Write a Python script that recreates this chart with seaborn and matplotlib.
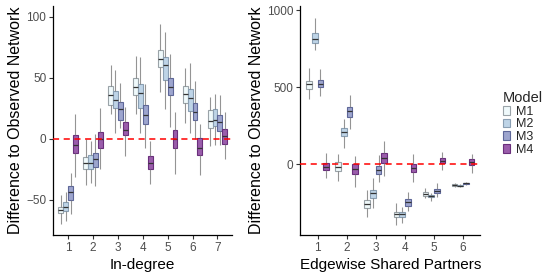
import numpy as np
import pandas as pd
import matplotlib
matplotlib.use("Agg")
import matplotlib.pyplot as plt
import matplotlib.patches as mpatches
import seaborn as sns

# Valores: (bigote inf, Q1, mediana, Q3, bigote sup)
models = ["M1", "M2", "M3", "M4"]
indeg_cats = ["1", "2", "3", "4", "5", "6", "7"]
esp_cats = ["1", "2", "3", "4", "5", "6"]

indeg_m1 = [(-70, -61, -58.5, -56, -46), (-38, -25, -20, -15, -0.5), (20, 28, 35.5, 43, 60),
            (20, 36, 42.6, 50, 68), (38, 59, 65, 73, 94), (12.6, 29, 37, 43, 58), (-6, 8.5, 14.5, 23.5, 34)]
indeg_m2 = [(-67.5, -59, -55.7, -52, -44), (-36, -24.6, -20, -13.4, -2), (5, 25, 31.7, 39, 56),
            (5, 25, 37.4, 45, 67), (24.6, 48, 60, 67, 87), (5, 23, 33, 40.7, 62), (-5, 10.4, 15.6, 24, 37)]
indeg_m3 = [(-62, -50.5, -44, -39, -28.4), (-39, -23.5, -16.7, -12, 3.5), (9, 15.6, 24, 30, 46),
            (-8, 11.7, 19.4, 28, 45), (10, 35.5, 42.3, 50, 69.7), (-0.5, 15.6, 22, 29, 47), (-5, 6.3, 13.4, 19.4, 36)]
indeg_m4 = [(-31, -12, -5, 3, 20.5), (-25, -7.4, 0, 5.7, 25), (-14, 3, 6.8, 13.4, 26),
            (-37, -24.6, -20, -14, -2), (-28.7, -8, 0, 7.4, 22), (-30, -13.4, -8, 0.3, 11.7), (-17, -4.6, 2, 8, 22)]

esp_m1 = [(424, 489, 522, 541, 623), (-108, -43, -15, 17, 67), (-340, -286, -260, -232, -167),
          (-394, -344, -322, -307, -253), (-221, -206, -193, -182, -156), (-145, -138, -134, -130, -123)]
esp_m2 = [(742, 786, 816, 851, 948), (108, 186, 210, 234, 294), (-281, -221, -188, -167, -91),
          (-383, -344, -322, -307, -275), (-238, -214, -206, -199, -188), (-149, -143, -139, -134, -130)]
esp_m3 = [(446, 500, 524, 545, 619), (229, 305, 346, 374, 450), (-117, -65, -37, -9, 61),
          (-301, -268, -245, -225, -177), (-210, -184, -171, -158, -123), (-136, -130, -123, -119, -112)]
esp_m4 = [(-91, -37, -15, 11, 71), (-145, -61, -30, 0, 56), (-74, 6.5, 43, 71, 152),
          (-113, -50, -22, 2, 65), (-37, 6.5, 24, 39, 82), (-58, -4, 13, 32, 67)]

colors = ["#edf8fb", "#b3cde3", "#8c96c6", "#88419d"]
edges = ["#9aa3a8", "#8a9fb3", "#5e6799", "#6a2f7c"]


def to_long(cats, series):
    rows = []
    for model, boxes in zip(models, series):
        for cat, five in zip(cats, boxes):
            for v in five:
                rows.append({"cat": cat, "Model": model, "value": v})
    return pd.DataFrame(rows)


df_in = to_long(indeg_cats, [indeg_m1, indeg_m2, indeg_m3, indeg_m4])
df_esp = to_long(esp_cats, [esp_m1, esp_m2, esp_m3, esp_m4])

sns.set_style("ticks")
plt.rcParams["font.family"] = ["Liberation Sans", "DejaVu Sans"]

fig = plt.figure(figsize=(5.6, 2.8), dpi=100)
ax1 = fig.add_axes([0.095, 0.16, 0.32, 0.82])
ax2 = fig.add_axes([0.536, 0.16, 0.322, 0.82])


def draw(ax, df, cats, xlabel, ylim, yticks):
    sns.boxplot(data=df, x="cat", y="value", hue="Model", order=cats, hue_order=models,
                palette=colors, whis=(0, 100), width=0.78, gap=0.0, showcaps=False,
                linewidth=0.8, linecolor="#7a7a7a", fliersize=0,
                medianprops={"color": "#333333", "linewidth": 0.9},
                whiskerprops={"alpha": 0.8}, legend=False, ax=ax)
    n = len(cats)
    for i, p in enumerate(ax.patches):
        k = i // n
        p.set_facecolor(matplotlib.colors.to_rgba(colors[k], 0.85))
        p.set_edgecolor(edges[k])
    ax.axhline(0, color="red", linestyle=(0, (4, 3)), linewidth=1.1, zorder=5)
    ax.set_xlim(-0.6, n - 0.4)
    ax.set_ylim(*ylim)
    ax.set_yticks(yticks)
    ax.set_xlabel(xlabel, fontsize=11, color="black", labelpad=3)
    ax.set_ylabel("Difference to Observed Network", fontsize=11.5, color="black", labelpad=2)
    ax.tick_params(labelsize=8.5, labelcolor="#4d4d4d", length=3, width=0.8, color="#333333", pad=2)
    for s in ["left", "bottom"]:
        ax.spines[s].set_linewidth(0.9)
        ax.spines[s].set_color("black")
    sns.despine(ax=ax)


draw(ax1, df_in, indeg_cats, "In-degree", (-79, 109), [-50, 0, 50, 100])
draw(ax2, df_esp, esp_cats, "Edgewise Shared Partners", (-460, 1030), [0, 500, 1000])

handles = [mpatches.Patch(facecolor=matplotlib.colors.to_rgba(c, 0.85), edgecolor=e, linewidth=0.8,
                          label=m) for c, e, m in zip(colors, edges, models)]
fig.legend(handles=handles, title="Model", loc="upper left", bbox_to_anchor=(0.878, 0.715),
           frameon=False, fontsize=9, title_fontsize=10.5, handlelength=0.55, handleheight=0.7,
           handletextpad=0.5, labelspacing=0.05, alignment="left")

fig.savefig("out.png", dpi=100)
